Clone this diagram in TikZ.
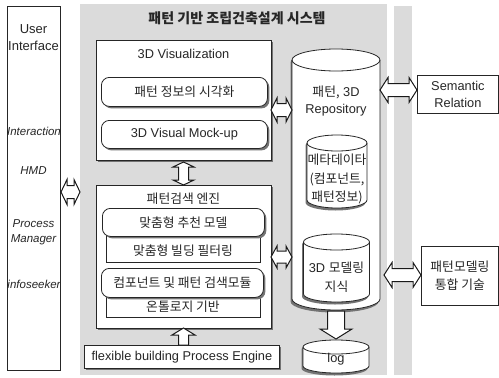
\documentclass[tikz,border=0pt]{standalone}
\usepackage{fontspec}
\setmainfont{Liberation Sans}
\newfontfamily\kr{Noto Sans CJK KR}
\usetikzlibrary{shadows,calc}

% database drum: name, centre x, x radius, top-ellipse y, bottom-ellipse y, y radius
\newcommand{\dbdrum}[6]{%
  \fill[black!55] (#2-#3-1.5,-#4-2.5) -- (#2-#3-1.5,-#5-2.5)
    arc[start angle=180,end angle=360,x radius=#3,y radius=#6]
    -- (#2+#3-1.5,-#4-2.5)
    arc[start angle=0,end angle=180,x radius=#3,y radius=#6] -- cycle;
  \draw[edge, fill=white] (#2-#3,-#4) -- (#2-#3,-#5)
    arc[start angle=180,end angle=360,x radius=#3,y radius=#6]
    -- (#2+#3,-#4)
    arc[start angle=0,end angle=180,x radius=#3,y radius=#6] -- cycle;
  \draw[edge] (#2-#3,-#4) arc[start angle=180,end angle=360,x radius=#3,y radius=#6];
  \node[inner sep=0pt, minimum width={2*#3*1pt}, minimum height={(#5-#4+2*#6)*1pt}]
    (#1) at (#2,{-(#4+#5)/2}) {};
}

% outlined double-headed block arrow:
% name, centre x, centre y, direction, length, head width, shaft width, head length
\newcommand{\dblarrow}[8]{%
  \begin{scope}[shift={(#2,#3)}, rotate=#4]
    \draw[blockarrow] (-#5/2,0) -- (-#5/2+#8,#6/2) -- (-#5/2+#8,#7/2)
      -- (#5/2-#8,#7/2) -- (#5/2-#8,#6/2) -- (#5/2,0) -- (#5/2-#8,-#6/2)
      -- (#5/2-#8,-#7/2) -- (-#5/2+#8,-#7/2) -- (-#5/2+#8,-#6/2) -- cycle;
  \end{scope}
  \node[inner sep=0pt, minimum size=2pt] (#1) at (#2,#3) {};
}

% outlined single-headed block arrow, same arguments
\newcommand{\onearrow}[8]{%
  \begin{scope}[shift={(#2,#3)}, rotate=#4]
    \draw[blockarrow] (-#5/2,#7/2) -- (#5/2-#8,#7/2) -- (#5/2-#8,#6/2)
      -- (#5/2,0) -- (#5/2-#8,-#6/2) -- (#5/2-#8,-#7/2) -- (-#5/2,-#7/2) -- cycle;
  \end{scope}
  \node[inner sep=0pt, minimum size=2pt] (#1) at (#2,#3) {};
}

\begin{document}
\begin{tikzpicture}[x=1pt,y=1pt,
  edge/.style={draw=black!85, line width=0.8pt},
  blockarrow/.style={draw=black!90, fill=white, line width=1pt, line join=miter},
  panel/.style={fill=black!14, draw=none, inner sep=0pt, anchor=north west},
  box/.style={edge, fill=white, inner sep=0pt, anchor=north west},
  shade/.style={drop shadow={shadow xshift=2pt, shadow yshift=-2pt, fill=black!55, opacity=1}},
  rbox/.style={box, rounded corners=8pt, shade},
  txt/.style={font=\fontsize{12.8}{17}\selectfont, text=black!85, inner sep=0pt, align=center},
  krtxt/.style={txt, font=\kr\fontsize{12.8}{17}\selectfont},
  uitxt/.style={txt, font=\itshape\fontsize{11.5}{15}\selectfont}
]
\useasboundingbox (0,0) rectangle (499,-378);

% background panels
\node[panel, minimum width=307pt, minimum height=371pt] (sys) at (80,-4) {};
\node[panel, minimum width=18pt, minimum height=369pt] (strip) at (394,-6) {};

% user interface column
\node[box, minimum width=53pt, minimum height=364pt] (ui) at (7,-6) {};
\node[txt, font=\fontsize{13}{17}\selectfont] (uititle) at (33.5,-38) {User\\Interface};
\node[uitxt] (uiint) at (34,-131) {Interaction};
\node[uitxt] (uihmd) at (33.5,-171) {HMD};
\node[uitxt] (uipm) at (33.5,-232) {Process\\Manager};
\node[uitxt] (uiinfo) at (34,-284) {infoseeker};

% title
\node[txt, font=\kr\bfseries\fontsize{14}{17}\selectfont] (title) at (237,-18) {패턴 기반 조립건축설계 시스템};

% 3D visualization block
\node[box, shade, minimum width=175pt, minimum height=120pt] (vis) at (96,-40) {};
\node[txt] (vistitle) at (183.5,-54) {3D Visualization};
\node[rbox, minimum width=166pt, minimum height=29pt] (rb1) at (101,-77) {};
\node[krtxt] (rb1t) at (rb1.center) {패턴 정보의 시각화};
\node[rbox, minimum width=166pt, minimum height=28pt] (rb2) at (101,-120) {};
\node[txt] (rb2t) at (rb2.center) {3D Visual Mock-up};

% pattern search engine block
\node[box, shade, minimum width=175pt, minimum height=143pt] (eng) at (96,-185) {};
\node[krtxt] (engtitle) at (183.5,-199) {패턴검색 엔진};
\node[box, minimum width=154pt, minimum height=34pt] (rc1) at (106,-228) {};
\node[krtxt] (rc1t) at (183,-251) {맞춤형 빌딩 필터링};
\node[rbox, minimum width=162pt, minimum height=28pt] (rb3) at (102,-208) {};
\node[krtxt] (rb3t) at (rb3.center) {맞춤형 추천 모델};
\node[box, minimum width=154pt, minimum height=27pt] (rc2) at (106,-290) {};
\node[krtxt] (rc2t) at (183,-307) {온톨로지 기반};
\node[rbox, minimum width=162pt, minimum height=29pt] (rb4) at (101,-268) {};
\node[krtxt] (rb4t) at (rb4.center) {컴포넌트 및 패턴 검색모듈};

% process engine
\node[box, shade, minimum width=195pt, minimum height=23pt] (flex) at (84,-345) {};
\node[txt] (flext) at (flex.center) {flexible building Process Engine};

% repositories
\dbdrum{repo}{336}{44}{60}{299}{11}
\node[txt] (repot) at (336,-101) {{\kr 패턴,} 3D\\Repository};
\dbdrum{meta}{337}{30}{143}{200}{8}
\node[krtxt, font=\kr\fontsize{12.8}{18.5}\selectfont] (metat) at (337,-179) {메타데이타\\(컴포넌트,\\패턴정보)};
\dbdrum{model}{336.5}{33}{242}{294}{8}
\node[txt, font=\fontsize{12.8}{19}\selectfont] (modelt) at (336.5,-277) {3D {\kr 모델링}\\{\kr 지식}};
\dbdrum{log}{336}{33}{347}{366}{7}
\node[txt] (logt) at (336,-359) {log};

% external boxes
\node[box, minimum width=81pt, minimum height=38pt] (sem) at (417,-75) {};
\node[txt] (semt) at (sem.center) {Semantic\\Relation};
\node[box, minimum width=77pt, minimum height=59pt] (pm) at (421,-246) {};
\node[krtxt, font=\kr\fontsize{12.8}{18}\selectfont] (pmt) at (pm.center) {패턴모델링\\통합 기술};

% block connectors
\dblarrow{a0}{70.5}{-192}{0}{19}{25}{13}{6}
\dblarrow{a1}{183.5}{-173.5}{90}{23}{21}{10}{5}
\dblarrow{a2}{281.5}{-110}{0}{21}{24}{13}{6}
\dblarrow{a3}{281.5}{-257}{0}{21}{22}{12}{6}
\dblarrow{a4}{398.5}{-90}{0}{37}{25}{13}{8}
\dblarrow{a5}{402.5}{-275}{0}{37}{25}{13}{8}
\onearrow{a6}{336}{-325}{-90}{28}{32}{17}{10}
\onearrow{a7}{183.5}{-336.5}{90}{17}{23}{10}{7}
\end{tikzpicture}
\end{document}
